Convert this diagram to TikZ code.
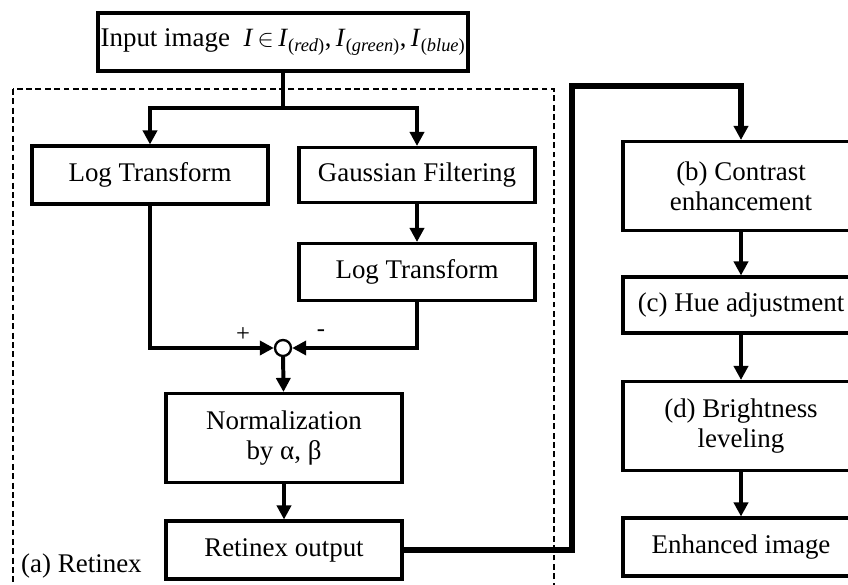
\documentclass[tikz,border=0pt]{standalone}
\usepackage{fontspec}
\setmainfont{Liberation Serif}
\usetikzlibrary{arrows.meta}

% colour channel of the input image
\newcommand{\chan}[1]{\textit{I}\textsubscript{(\textit{#1})}}

\tikzset{
  blk/.style={draw, line width=2.6pt, minimum width=7.08cm, minimum height=1.74cm,
    align=center, inner sep=2pt, font=\fontsize{23}{25.6}\selectfont},
  flow/.style={line width=3.4pt, -{Triangle[length=12pt,width=12pt]}},
  route/.style={line width=4.3pt, -{Triangle[length=12pt,width=12pt]}},
  sign/.style={inner sep=0pt, font=\fontsize{21}{21}\selectfont},
}

\begin{document}
\begin{tikzpicture}[x=0.03cm, y=-0.03cm]

  % Parameters
  \def\shortbox{1.74cm}
  \def\tallbox{2.67cm}
  \clip (0,0) rectangle (848,584);

  % retinex frame
  \draw[line width=1.8pt, dash pattern=on 5pt off 3pt] (13,89) rectangle (554,640);
  \node[anchor=west, inner sep=0pt, font=\fontsize{23}{25.6}\selectfont] (lbl) at (21,566) {(a) Retinex};

  % input
  \node[blk, minimum width=11.1cm] (inp) at (283,42)
    {Input image\enspace{\fontsize{22.5}{22.5}\selectfont\textit{I}\,$\in$\,\chan{red},\,\chan{green},\,\chan{blue}}};

  % retinex blocks
  \node[blk] (log1) at (150,175) {Log Transform};
  \node[blk, minimum height=1.65cm] (gauss) at (417,175) {Gaussian Filtering};
  \node[blk, minimum height=1.71cm] (log2) at (417,272) {Log Transform};
  \node[circle, draw, line width=2pt, fill=white, minimum size=0.48cm, inner sep=0pt] (sum) at (283,348) {};
  \node[blk, minimum height=\tallbox] (norm) at (284,438) {Normalization\\by α, β};
  \node[blk] (ret) at (284,550) {Retinex output};

  % enhancement blocks
  \node[blk, minimum height=\tallbox] (con) at (741,186) {(b) Contrast\\enhancement};
  \node[blk, minimum height=1.68cm] (hue) at (741,305) {(c) Hue adjustment};
  \node[blk, minimum height=\tallbox] (bri) at (741,426) {(d) Brightness\\leveling};
  \node[blk] (enh) at (741,547) {Enhanced image};

  % signs at the summing point
  \node[sign] (plus) at (243,335) {+};
  \node[sign] (minus) at (321,333) {-};

  % connectors
  \coordinate (split) at (283,108);
  \coordinate (turn) at (572,86);
  \draw[line width=3.4pt] (inp) -- (split);
  \draw[flow] (split) -| (log1);
  \draw[flow] (split) -| (gauss);
  \draw[flow] (gauss) -- (log2);
  \draw[flow] (log1) |- (sum);
  \draw[flow] (log2) |- (sum);
  \draw[flow] (sum) -- (norm);
  \draw[flow] (norm) -- (ret);
  \draw[route] (ret.east) -| (turn) -| (con);
  \foreach \a/\b in {con/hue, hue/bri, bri/enh} {
    \draw[flow] (\a) -- (\b);
  }

\end{tikzpicture}
\end{document}
